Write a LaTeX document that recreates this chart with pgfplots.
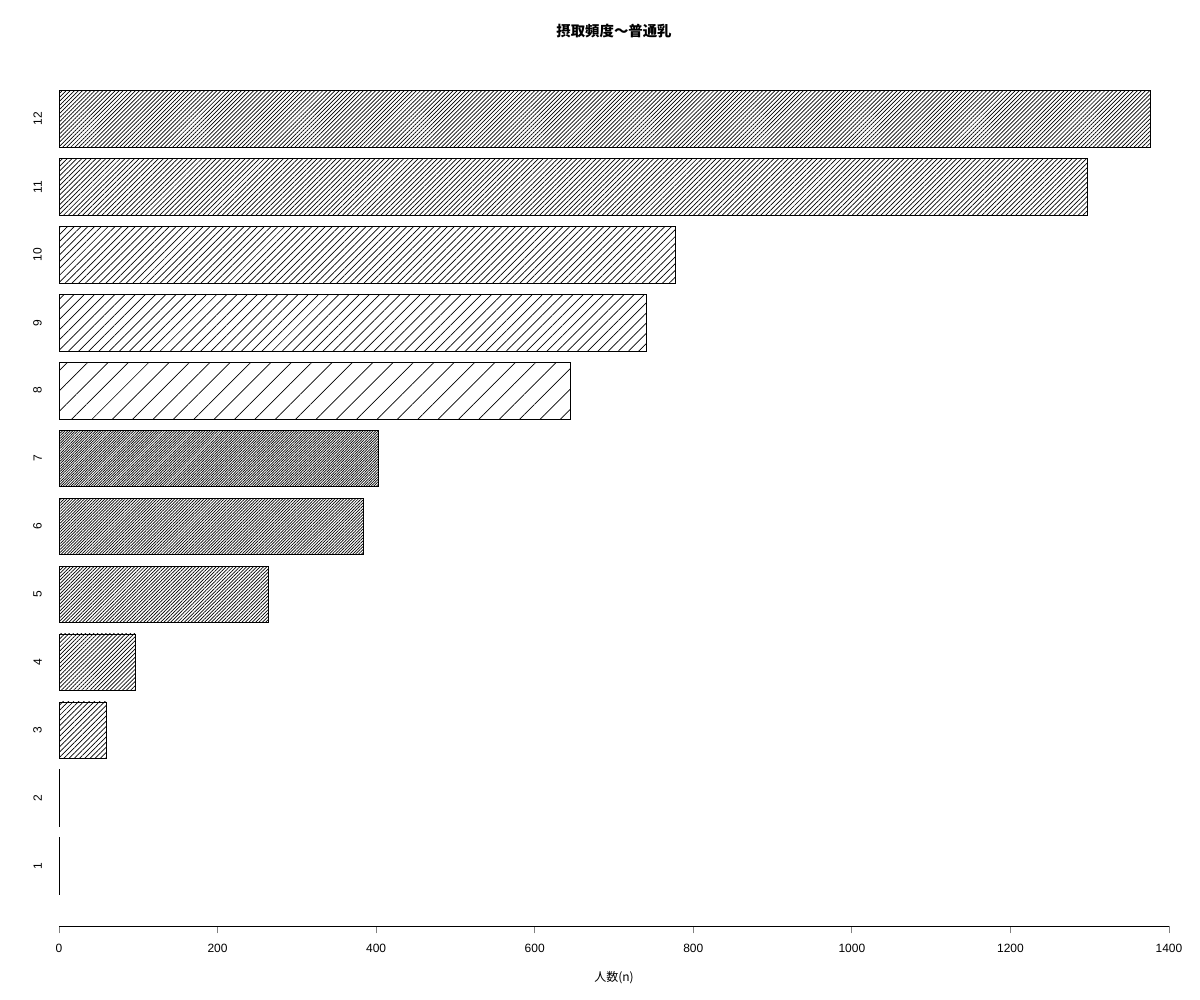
\documentclass[border=0pt]{standalone}
\usepackage{fontspec}
\setmainfont{Liberation Sans}
\newfontfamily\cjk{Noto Sans CJK JP}
\usepackage{pgfplots}
\pgfplotsset{compat=1.18}
\usetikzlibrary{patterns.meta}
\tikzset{hatch/.style={pattern={Lines[angle=45,distance=#1,line width=0.7bp]}}}
\begin{document}
\begin{tikzpicture}
\useasboundingbox (0,0) rectangle (1200bp,1000bp);
\begin{axis}[
  at={(59bp,73.5bp)}, anchor=south west,
  scale only axis, width=1110bp, height=868bp,
  xmin=0, xmax=1400, ymin=-0.368, ymax=14.968,
  axis x line*=bottom, axis y line*=left,
  y axis line style={draw=none},
  x axis line style={line width=0.75bp},
  xtick={0,200,400,600,800,1000,1200,1400},
  ytick={0.7,1.9,3.1,4.3,5.5,6.7,7.9,9.1,10.3,11.5,12.7,13.9},
  yticklabels={1,2,3,4,5,6,7,8,9,10,11,12},
  ytick style={draw=none},
  xtick style={line width=0.75bp},
  tick align=outside, major tick length=7bp,
  /pgf/number format/assume math mode=true,
  /pgf/number format/set thousands separator={},
  xticklabel style={font=\fontsize{12bp}{14bp}\selectfont, inner sep=0pt, yshift=-10bp},
  yticklabel style={font=\fontsize{12bp}{14bp}\selectfont, rotate=90, anchor=south, inner sep=0pt, yshift=10bp},
  title={\cjk\bfseries 摂取頻度〜普通乳},
  title style={font=\fontsize{14.4bp}{17bp}\selectfont, at={(axis description cs:0.5,1)}, anchor=center, yshift=21.5bp},
  xlabel={\cjk 人数(n)},
  xlabel style={font=\fontsize{12bp}{14bp}\selectfont, at={(axis description cs:0.5,0)}, anchor=center, yshift=-51.5bp},
  xbar, bar width=1, bar shift=0pt,
]
\addplot[draw=black, line width=0.75bp, hatch=3.7bp] coordinates {(1,0.7)};
\addplot[draw=black, line width=0.75bp, hatch=3.7bp] coordinates {(1,1.9)};
\addplot[draw=black, line width=0.75bp, hatch=3.7bp] coordinates {(59.3,3.1)};
\addplot[draw=black, line width=0.75bp, hatch=2.88bp] coordinates {(95.9,4.3)};
\addplot[draw=black, line width=0.75bp, hatch=2.4bp] coordinates {(263.6,5.5)};
\addplot[draw=black, line width=0.75bp, hatch=2.06bp] coordinates {(383.4,6.7)};
\addplot[draw=black, line width=0.75bp, hatch=1.8bp] coordinates {(402.3,7.9)};
\addplot[draw=black, line width=0.75bp, hatch=14.4bp] coordinates {(644.5,9.1)};
\addplot[draw=black, line width=0.75bp, hatch=7.2bp] coordinates {(740.3,10.3)};
\addplot[draw=black, line width=0.75bp, hatch=4.8bp] coordinates {(776.9,11.5)};
\addplot[draw=black, line width=0.75bp, hatch=3.4bp] coordinates {(1296.5,12.7)};
\addplot[draw=black, line width=0.75bp, hatch=2.88bp] coordinates {(1377,13.9)};
\end{axis}
\end{tikzpicture}
\end{document}
